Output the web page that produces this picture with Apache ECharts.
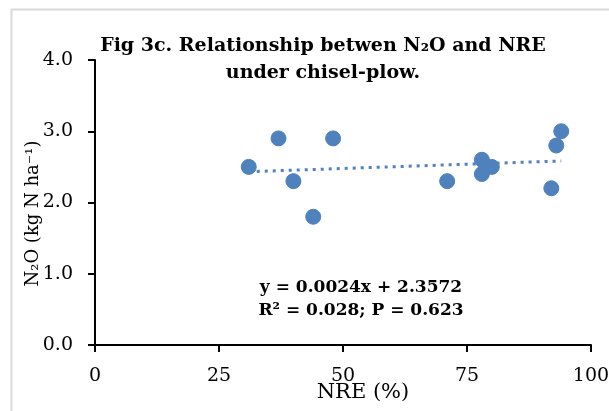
<!DOCTYPE html>
<html>
<head>
<meta charset="utf-8">
<script src="https://cdn.jsdelivr.net/npm/echarts@6/dist/echarts.min.js"></script>
<style>html,body{margin:0;padding:0;background:#fff;}#c{width:609px;height:411px;}</style>
</head>
<body>
<div id="c"></div>
<script>
var nreValues = [31, 37, 40, 44, 48, 71, 78, 78, 80, 92, 93, 94];
var n2oValues = [2.5, 2.9, 2.3, 1.8, 2.9, 2.3, 2.6, 2.4, 2.5, 2.2, 2.8, 3.0];
var trendX = [31, 94];
var trendY = [2.432, 2.583];
var xTicks = [0, 25, 50, 75, 100];
var yTicks = [0, 1, 2, 3, 4];
var titleLines = ['Fig 3c. Relationship betwen N\u2082O and NRE', 'under chisel-plow.'];
var eqLines = ['y = 0.0024x + 2.3572', 'R\u00b2 = 0.028; P = 0.623'];

var FONT = 'DejaVu Serif';
var chart = echarts.init(document.getElementById('c'), null, {renderer: 'canvas'});
var pts = nreValues.map(function (x, i) { return [x, n2oValues[i]]; });
var trend = trendX.map(function (x, i) { return [x, trendY[i]]; });

chart.setOption({
  animation: false,
  backgroundColor: '#fff',
  grid: {left: 95, right: 18, top: 60, bottom: 66, containLabel: false, outerBoundsMode: 'none'},
  title: {
    text: titleLines.join('\n'),
    left: 318, top: 28, textAlign: 'center',
    textStyle: {fontFamily: FONT, fontWeight: 'bold', fontSize: 19, color: '#000', lineHeight: 27}
  },
  graphic: [
    {type: 'rect', left: 9, top: 7, shape: {width: 640, height: 440}, style: {fill: 'none', stroke: '#d9d9d9', lineWidth: 2}, z: -1},
    {type: 'text', position: [361, 288], style: {text: eqLines[0], x: 0, y: 0, textAlign: 'center', textVerticalAlign: 'middle', font: 'bold 17px "' + FONT + '"', fill: '#000'}},
    {type: 'text', position: [361, 311], style: {text: eqLines[1], x: 0, y: 0, textAlign: 'center', textVerticalAlign: 'middle', font: 'bold 17px "' + FONT + '"', fill: '#000'}}
  ],
  xAxis: {
    type: 'value', min: xTicks[0], max: xTicks[xTicks.length - 1], interval: 25,
    name: 'NRE (%)', nameLocation: 'middle', nameGap: 37, nameMoveOverlap: false,
    nameTextStyle: {fontFamily: FONT, fontSize: 21, color: '#000', padding: [0, 0, 0, 40]},
    axisLine: {lineStyle: {color: '#000', width: 2}},
    axisTick: {show: true, length: 7, lineStyle: {color: '#000', width: 2}},
    axisLabel: {fontFamily: FONT, fontSize: 19, color: '#000', margin: 22},
    splitLine: {show: false}
  },
  yAxis: {
    type: 'value', min: yTicks[0], max: yTicks[yTicks.length - 1], interval: 1,
    name: 'N\u2082O (kg N ha\u207b\u00b9)', nameLocation: 'middle', nameGap: 53, nameRotate: 90, nameMoveOverlap: false,
    nameTextStyle: {fontFamily: FONT, fontSize: 18, color: '#000', padding: [0, 22, 0, 0]},
    axisLine: {show: true, lineStyle: {color: '#000', width: 2}},
    axisTick: {show: true, length: 7, lineStyle: {color: '#000', width: 2}},
    axisLabel: {fontFamily: FONT, fontSize: 19, color: '#000', margin: 22, formatter: function (v) { return v.toFixed(1); }},
    splitLine: {show: false}
  },
  series: [
    {
      type: 'line', data: trend, showSymbol: false, symbol: 'none',
      lineStyle: {color: '#4f81bd', width: 3, type: [3, 5]}, z: 2
    },
    {
      type: 'scatter', data: pts, symbolSize: 15,
      itemStyle: {color: '#4f81bd', borderColor: '#4f81bd', opacity: 1}, z: 3
    }
  ]
});
</script>
</body>
</html>
